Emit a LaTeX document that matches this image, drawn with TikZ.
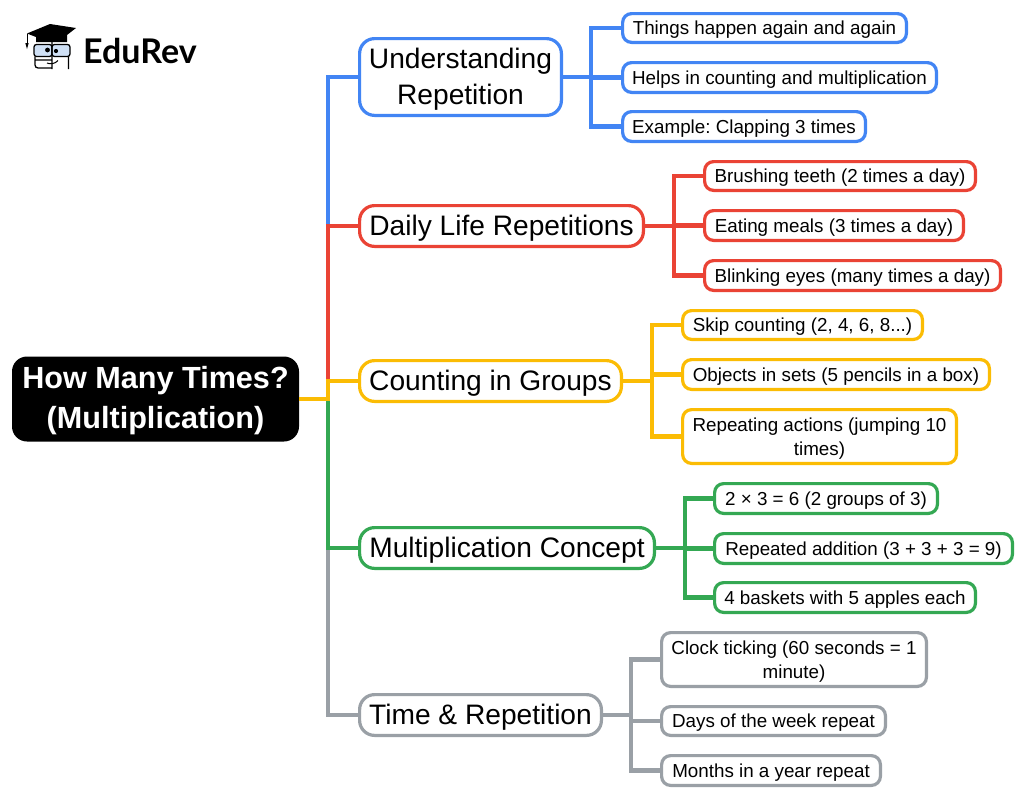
\documentclass[tikz,border=0pt]{standalone}
\usepackage{fontspec}
\setmainfont{Liberation Sans}
\newfontfamily\logofont{Lato}
\frenchspacing
\definecolor{cblue}{HTML}{4285F4}
\definecolor{cred}{HTML}{EA4335}
\definecolor{cyellow}{HTML}{FBBC04}
\definecolor{cgreen}{HTML}{34A853}
\definecolor{cgray}{HTML}{9AA0A6}
\definecolor{cglass}{HTML}{CFE0F5}
\newcommand{\bx}[7]{\node[#6,minimum width={#4-#2-3.2pt},minimum height={#5-#3-3.2pt}] (#1) at ({(#2+#4)/2},{(#3+#5)/2}) {\rule{0pt}{\firstline}#7};}
\tikzset{
  x=1pt,y=-1pt,
  boxbase/.style={draw,fill=white,inner sep=0pt,align=center,line width=3.2pt,text=black},
  rootbox/.style={fill=black,text=white,rounded corners=15pt,inner sep=0pt,align=center,font=\fontsize{30.6}{40}\selectfont\bfseries},
  mainbox/.style={boxbase,rounded corners=15pt,font=\fontsize{28.15}{36.5}\selectfont,execute at begin node=\def\firstline{0.87em}},
  leaf/.style={boxbase,rounded corners=9pt,font=\fontsize{18.8}{24.5}\selectfont,execute at begin node=\def\firstline{0.95em}},
  link/.style={line width=4.4pt,line join=miter},
}
\begin{document}
\begin{tikzpicture}
\useasboundingbox (0,0) rectangle (1024,798);
% root
\node[rootbox,minimum width=287pt,minimum height=85pt] (root) at (155.5,399) {\rule{0pt}{0.86em}How Many Times?\\(Multiplication)};
% main boxes
\bx{u}{358}{37}{563}{117}{mainbox,draw=cblue}{Understanding\\Repetition}
\bx{d}{358}{204}{645}{248}{mainbox,draw=cred}{Daily Life Repetitions}
\bx{c}{358}{359}{623}{403}{mainbox,draw=cyellow}{Counting in Groups}
\bx{m}{358}{526}{656}{570}{mainbox,draw=cgreen}{Multiplication Concept}
\bx{t}{358}{693}{603}{737}{mainbox,draw=cgray}{Time \& Repetition}
% leaves
\bx{u1}{621}{12}{908}{44}{leaf,draw=cblue}{Things happen again and again}
\bx{u2}{621}{61}{938}{94}{leaf,draw=cblue}{Helps in counting and multiplication}
\bx{u3}{621}{110}{867}{143}{leaf,draw=cblue}{Example: Clapping 3 times}
\bx{d1}{703}{160}{977}{192}{leaf,draw=cred}{Brushing teeth (2 times a day)}
\bx{d2}{703}{209}{965}{242}{leaf,draw=cred}{Eating meals (3 times a day)}
\bx{d3}{703}{259}{1002}{292}{leaf,draw=cred}{Blinking eyes (many times a day)}
\bx{c1}{681}{309}{924}{341}{leaf,draw=cyellow}{Skip counting (2, 4, 6, 8...)}
\bx{c2}{681}{358}{991}{391}{leaf,draw=cyellow}{Objects in sets (5 pencils in a box)}
\bx{c3}{681}{408}{958}{465}{leaf,draw=cyellow}{Repeating actions (jumping 10\\times)}
\bx{m1}{713}{482}{939}{515}{leaf,draw=cgreen}{2 × 3 = 6 (2 groups of 3)}
\bx{m2}{713}{532}{1014}{565}{leaf,draw=cgreen}{Repeated addition (3 + 3 + 3 = 9)}
\bx{m3}{713}{581}{977}{614}{leaf,draw=cgreen}{4 baskets with 5 apples each}
\bx{t1}{660}{631}{928}{688}{leaf,draw=cgray}{Clock ticking (60 seconds = 1\\minute)}
\bx{t2}{660}{705}{887}{737}{leaf,draw=cgray}{Days of the week repeat}
\bx{t3}{660}{754}{882}{787}{leaf,draw=cgray}{Months in a year repeat}
% trunk points
\coordinate (trunk) at (328,399);
\coordinate (tu) at (591,77);
\coordinate (td) at (674,226);
\coordinate (tc) at (652,381);
\coordinate (tm) at (685,548);
\coordinate (tt) at (631,715);
\draw[link,cblue] (root.east) -- (trunk) |- (u.west);
\draw[link,cred] (root.east) -- (trunk) |- (d.west);
\draw[link,cgray] (root.east) -- (trunk) |- (t.west);
\draw[link,cgreen] (root.east) -- (trunk) |- (m.west);
\draw[link,cyellow] (root.east) -- (trunk) |- (c.west);
\foreach \n in {u1,u2,u3} \draw[link,cblue] (u.east) -- (tu) |- (\n.west);
\foreach \n in {d1,d2,d3} \draw[link,cred] (d.east) -- (td) |- (\n.west);
\foreach \n in {c1,c2,c3} \draw[link,cyellow] (c.east) -- (tc) |- (\n.west);
\foreach \n in {m1,m2,m3} \draw[link,cgreen] (m.east) -- (tm) |- (\n.west);
\foreach \n in {t1,t2,t3} \draw[link,cgray] (t.east) -- (tt) |- (\n.west);
% logo
\node[anchor=west,inner sep=0pt,font=\logofont\bfseries\fontsize{34}{34}\selectfont] (logo) at (83,51) {EduRev};
\fill[black] (27,33.5) -- (50,24) -- (76,28) -- (67,35) -- (67,42) -- (36,42) -- (36,37) -- cycle;
\draw[line width=1pt] (27,33.5) -- (27,44);
\fill (25.3,43) -- (28.7,43) -- (27,49) -- cycle;
\draw[fill=cglass,line width=1.3pt,rounded corners=2.5pt] (34,44.5) rectangle (52,56.5);
\draw[fill=cglass,line width=1.3pt,rounded corners=2.5pt] (52,44.5) rectangle (70,56.5);
\fill (47.5,50) circle (2.4pt) (56,51) circle (2.1pt);
\draw[line width=1.3pt,rounded corners=3pt] (35,56.5) -- (35,68) -- (52,68) (52,42) -- (52,69) (68.5,56.5) -- (68.5,69) (35,60) -- (52,60);
\draw[line width=1pt] (47,63) .. controls (50,64.5) and (55,64) .. (58,60.5);
\end{tikzpicture}
\end{document}
